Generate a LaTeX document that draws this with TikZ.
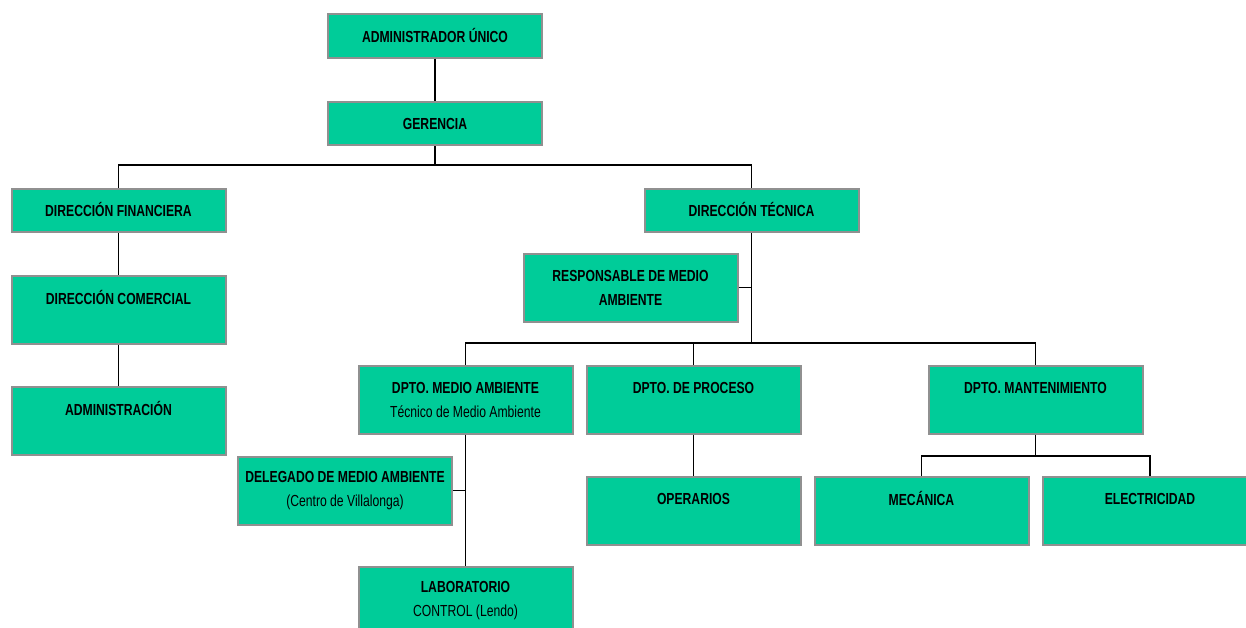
\documentclass[tikz,border=0pt]{standalone}
\usepackage{fontspec}
\setmainfont{Liberation Sans}[FakeStretch=0.76]
\definecolor{boxgreen}{HTML}{00CC99}
\definecolor{boxedge}{HTML}{909090}
\newcommand{\orgstrut}{\rule[-4.5pt]{0pt}{18pt}}

\begin{document}
\begin{tikzpicture}[x=0.75pt,y=-0.75pt]

        % Setup the style for the boxes
        \tikzset{base style/.style={rectangle,
                                    minimum width=160.5pt,
                                    inner sep=0pt,
                                    align=center,
                                    font=\fontsize{12}{18}\selectfont\bfseries,
                                    line width=1.5pt,
                                    draw=boxedge,
                                    fill=boxgreen},
                 box style/.style={base style,
                                   minimum height=32.5pt,
                                   execute at begin node=\orgstrut,
                                   execute at end node=\orgstrut},
                 tall style/.style={base style, minimum height=51pt},
                 link style/.style={line width=1.1pt, draw=black}}

        % Page size
        \useasboundingbox (0, 0) rectangle (1246, 628);
        \clip (0, 0) rectangle (1246, 628);

        % Draw the boxes
        \node[box style]  at (435, 36)      (adm)   {ADMINISTRADOR ÚNICO};
        \node[box style]  at (435, 123.5)   (ger)   {GERENCIA};
        \node[box style]  at (118.5, 210.5) (fin)   {DIRECCIÓN FINANCIERA};
        \node[tall style] at (118.5, 309.5) (com)   {DIRECCIÓN COMERCIAL\\ \mbox{}};
        \node[tall style] at (118.5, 420.5) (admin) {ADMINISTRACIÓN\\ \mbox{}};
        \node[box style]  at (751.5, 210.5) (tec)   {DIRECCIÓN TÉCNICA};
        \node[tall style] at (630.5, 287.5) (resp)  {RESPONSABLE DE MEDIO\\AMBIENTE};
        \node[tall style] at (465.5, 399.5) (dma)   {DPTO. MEDIO AMBIENTE\\{\mdseries Técnico de Medio Ambiente}};
        \node[tall style] at (693.5, 399.5) (proc)  {DPTO. DE PROCESO\\ \mbox{}};
        \node[tall style] at (1035.5, 399.5) (mant) {DPTO. MANTENIMIENTO\\ \mbox{}};
        \node[tall style] at (345, 490.5)   (dele)  {DELEGADO DE MEDIO AMBIENTE\\{\mdseries (Centro de Villalonga)}};
        \node[tall style] at (465.5, 601)   (lab)   {LABORATORIO\\{\mdseries CONTROL (Lendo)}};
        \node[tall style] at (693.5, 510.5) (oper)  {OPERARIOS\\ \mbox{}};
        \node[tall style] at (921.5, 510.5) (mec)   {MECÁNICA\\ \mbox{}};
        \node[tall style] at (1150, 510.5)  (elec)  {ELECTRICIDAD\\ \mbox{}};

        % Branch points
        \coordinate (top bus)  at (435, 165);
        \coordinate (tec bus)  at (751.5, 343);
        \coordinate (mant bus) at (1035.5, 456);

        % Connect the boxes
        \draw[link style]
            (adm)  edge (ger)
            (fin)  edge (com)
            (com)  edge (admin)
            (dma)  edge (lab)
            (proc) edge (oper);
        \draw[link style] (ger) -- (top bus);
        \draw[link style] (fin.north) |- (top bus) -| (tec.north);
        \draw[link style] (tec) -- (tec bus);
        \draw[link style] (resp.east) -- (resp.east -| tec.south);
        \draw[link style] (dma.north) |- (tec bus) -| (mant.north);
        \draw[link style] (proc.north) -- (proc.north |- tec bus);
        \draw[link style] (dele.east) -- (dele.east -| dma.south);
        \draw[link style] (mant) -- (mant bus);
        \draw[link style] (mec.north) |- (mant bus) -| (elec.north);
    \end{tikzpicture}
\end{document}
